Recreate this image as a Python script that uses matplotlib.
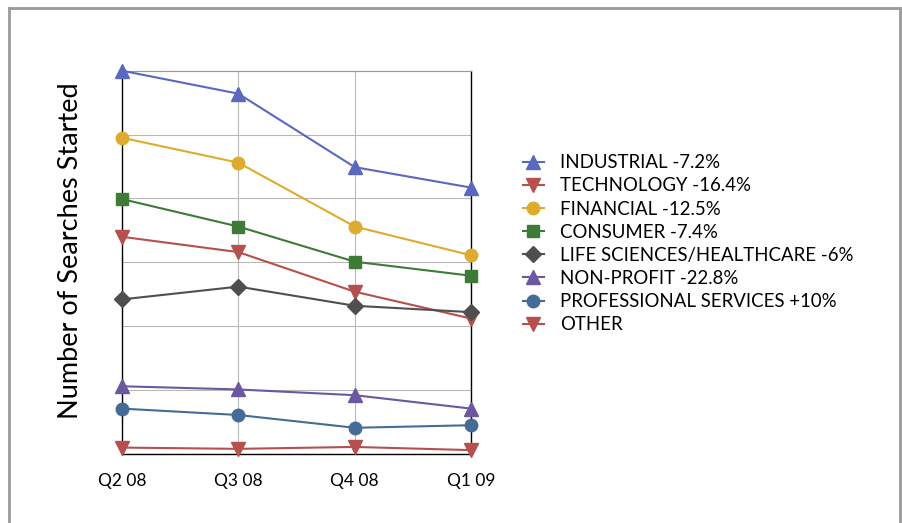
import numpy as np
import matplotlib.pyplot as plt
from matplotlib.lines import Line2D

plt.rcParams['font.family'] = ['Lato', 'DejaVu Sans']

quarters = ['Q2 08', 'Q3 08', 'Q4 08', 'Q1 09']

industrial = [60.0, 56.4, 44.9, 41.7]
technology = [34.0, 31.6, 25.4, 21.2]
financial = [49.5, 45.6, 35.6, 31.1]
consumer = [39.9, 35.6, 30.1, 27.9]
life_sciences = [24.2, 26.2, 23.2, 22.2]
non_profit = [10.6, 10.1, 9.2, 7.1]
professional = [7.1, 6.1, 4.1, 4.5]
other = [1.0, 0.8, 1.1, 0.6]

labels = ['INDUSTRIAL -7.2%', 'TECHNOLOGY -16.4%', 'FINANCIAL -12.5%',
          'CONSUMER -7.4%', 'LIFE SCIENCES/HEALTHCARE -6%',
          'NON-PROFIT -22.8%', 'PROFESSIONAL SERVICES +10%', 'OTHER']
series = [industrial, technology, financial, consumer, life_sciences,
          non_profit, professional, other]
colors = ['#5a68bd', '#b5504f', '#ddac2c', '#3e7b37', '#4f4f4f',
          '#6b58a0', '#456c96', '#b5504f']
markers = ['^', 'v', 'o', 's', 'D', '^', 'o', 'v']
sizes = [10, 10, 9, 8.5, 8, 10, 9, 10]

fig = plt.figure(figsize=(9.02, 5.23), dpi=100)
ax = fig.add_axes([0.1353, 0.132, 0.387, 0.7328])

x = np.arange(len(quarters))
for vals, lab, c, m, s in zip(series, labels, colors, markers, sizes):
    ax.plot(x, vals, color=c, marker=m, markersize=s, linewidth=1.5,
            label=lab, clip_on=False, zorder=3)

ax.set_xlim(0, 3)
ax.set_ylim(0, 60)
ax.set_yticks(np.arange(0, 61, 10))
ax.set_yticklabels([])
ax.set_xticks(x)
ax.set_xticklabels(quarters, fontsize=12.5)
ax.tick_params(length=0, pad=14)
ax.grid(True, color='#b8b8b8', linewidth=0.8)
ax.set_axisbelow(True)
for side in ['left', 'bottom', 'right']:
    ax.spines[side].set_color('black')
    ax.spines[side].set_linewidth(1.0)
ax.spines['top'].set_color('#999999')
ax.spines['top'].set_linewidth(0.8)

ax.set_ylabel('Number of Searches Started', fontsize=19.5)
ax.yaxis.set_label_coords(-0.112, 0.53)

ax.legend(loc='upper left', bbox_to_anchor=(0.58, 0.705),
          bbox_transform=fig.transFigure, frameon=False, fontsize=13.4,
          handlelength=1.1, handletextpad=0.9, labelspacing=0.33,
          borderaxespad=0, borderpad=0)

# grey outer frame
frame_kw = dict(color='#9a9a9a', linewidth=2.0, transform=fig.transFigure)
fig.add_artist(Line2D([0.0105, 0.0105], [0, 0.984], **frame_kw))
fig.add_artist(Line2D([0.9975, 0.9975], [0, 0.984], **frame_kw))
fig.add_artist(Line2D([0.0105, 0.9975], [0.984, 0.984], **frame_kw))

fig.savefig('out.png', dpi=100)
